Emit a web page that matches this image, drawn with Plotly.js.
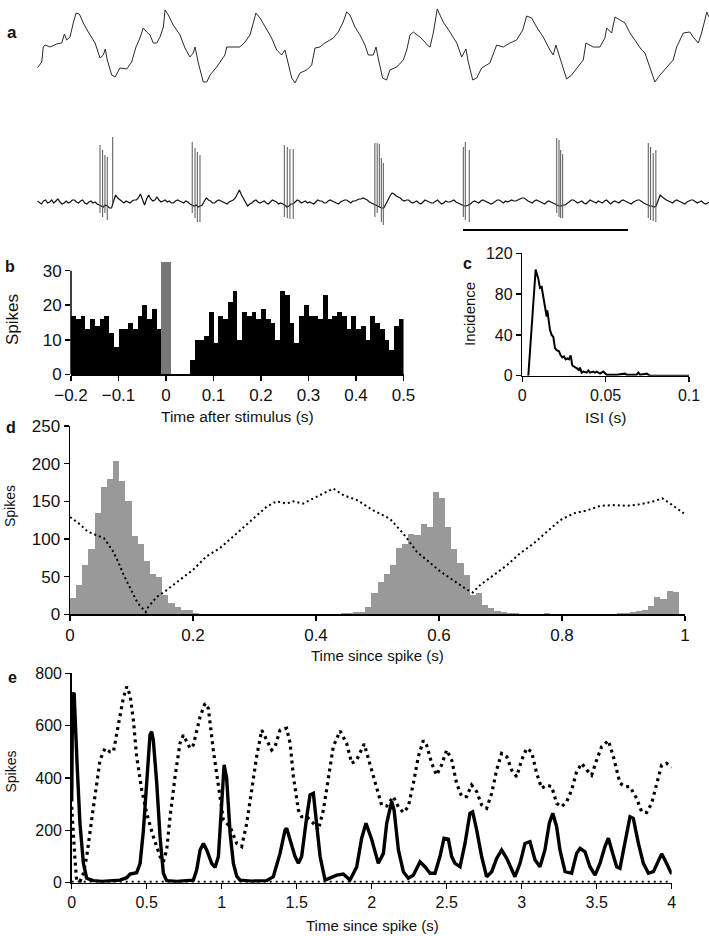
<!DOCTYPE html>
<html><head><meta charset="utf-8">
<script src="https://cdn.plot.ly/plotly-3.0.1.min.js"></script>
<style>html,body{margin:0;padding:0;background:#fff}#chart{width:709px;height:936px}</style>
</head><body><div id="chart"></div>
<script>
// ================= DATA =================
// (a) top: slow membrane/field oscillation (time ms, amplitude a.u.)
const slowT = [0,2.7,3.6,4.7,7.7,11.8,14.8,16.4,17.8,19.8,21.8,23.5,25.5,27.9,30.9,35.0,38.0,40.0,41.2,42.4,45.1,47.1,50.1,54.2,57.2,59.8,62.2,64.2,66.3,68.3,70.3,72.4,74.4,76.4,77.4,79.4,82.4,86.5,89.5,92.5,94.5,95.6,97.6,100.6,102.7,104.7,108.7,111.7,113.7,114.8,118.8,122.8,125.9,128.9,130.9,132.5,135.0,139.0,142.0,145.1,148.1,150.1,151.1,154.2,156.2,159.2,163.3,166.3,168.3,171.3,174.3,177.4,179.4,182.4,185.4,187.5,189.5,192.5,195.6,198.6,200.6,203.6,205.3,206.6,209.3,211.7,213.7,217.8,221.8,223.9,225.9,227.9,231.9,234.9,236.3,238.0,240.0,242.4,246.0,250.1,254.2,257.2,259.8,261.2,263.9,266.3,269.3,274.3,277.4,278.4,282.4,286.5,290.5,294.2,296.6,299.6,302.6,306.6,310.7,312.7,314.3,316.8,318.8,320.8,323.8,327.8,330.9,332.5,336.9,341.0,344.0,345.1,348.1,350.1,353.1,356.2,359.2,363.2,366.3,368.3,370.3,374.3,377.4,381.4,385.4,387.5,391.5,395.5,397.5,400.6,402.6,404.6,405.7,407.1];
const slowV = [17,23,38,40,38,41,42,51,45,48,62,72,71,62,53,42,27,30,36,25,10,8,17,16,23,38,47,57,53,50,42,42,48,58,75,70,60,50,37,28,32,38,22,3,3,10,18,25,30,38,38,38,43,50,62,72,67,55,47,35,30,35,28,7,2,12,15,20,37,38,42,45,47,53,63,73,70,58,50,40,30,30,38,27,7,5,15,18,25,35,50,53,48,43,40,38,52,76,63,53,42,28,36,23,5,7,17,22,35,40,38,42,45,55,69,67,58,48,35,30,40,27,15,6,10,18,25,42,38,38,47,57,52,68,65,62,52,42,35,32,23,3,10,17,25,38,52,53,48,42,52,65,73,68];
// (a) bottom: extracellular trace, sampled every 1.25 ms
const unitDt = 1.25;
const unitV = [
  1,-1,-2,1,2,-1,0,2,-1,1,3,0,-2,-1,1,-1,0,2,2,0,
  -1,1,2,-1,-2,0,1,-1,0,-2,-3,-4,-5,-3,-4,-6,-6,1,7,4,
  2,0,-1,1,0,-1,1,2,2,4,8,2,-3,3,7,3,1,2,5,2,
  0,1,2,0,1,-1,-1,1,2,1,0,-1,1,0,-2,-3,-4,-3,-5,-4,
  -3,1,4,2,1,-1,-1,1,2,1,0,-1,-2,0,1,2,4,8,12,7,
  3,-1,-4,-2,-1,1,2,0,-1,0,1,-1,-2,0,2,1,0,-2,-1,-2,
  -3,-5,-4,-2,-2,0,2,1,-1,0,1,-1,0,-1,-2,0,2,1,1,-1,
  -1,1,2,1,0,-1,-2,0,1,2,2,0,-1,1,1,2,3,3,4,3,
  2,0,-1,-2,-3,-4,-5,-6,-6,-2,3,6,9,8,6,5,4,2,1,2,
  2,0,-1,0,1,-1,-2,0,2,1,0,-1,-1,1,2,0,-2,-1,1,0,
  0,1,2,0,-1,-2,-3,-4,-4,-3,-2,0,1,0,-1,1,2,1,0,-1,
  -2,-1,1,2,2,0,-1,1,0,1,2,1,1,2,3,4,4,2,1,0,
  -1,1,2,1,0,-1,-2,0,1,0,-1,-2,-3,-4,-4,-3,-3,-1,1,2,
  2,0,-1,0,1,-1,-2,0,2,1,0,-1,1,0,-1,1,2,0,-2,0,
  1,0,-1,1,2,1,0,-1,-2,0,1,2,2,0,-1,-2,-3,-4,-4,-5,
  -4,2,7,5,3,2,1,0,-1,1,2,1,0,-1,-2,0,1,2,2,0,
  -1,0,1,-1,-2,-1,0];
const spikeTimes = [38.0,39.6,41.0,42.4,45.7, 93.9,95.6,97.0,98.6, 149.7,151.5,153.1,155.1, 204.6,206.0,207.3,208.5,209.7, 258.2,259.4,261.8, 314.8,316.2,317.2,318.4, 370.3,371.7,373.3,374.9];
const spikePeaks = [57,52,47,45,65, 60,54,50,47, 57,55,53,53, 59,59,58,44,39, 55,60,52, 64,62,52,48, 59,55,49,52];
const spikeTroughs = [-11,-15,-11,-18,-1, -11,-16,-20,-20, -15,-16,-17,-17, -15,-11,-6,-20,-23, -15,-18,-20, -11,-15,-16,-16, -16,-18,-19,-20];
const scaleBarStart = 258, scaleBarLength = 100, scaleBarLevel = -28;

// (b) peri-stimulus histogram
const psthBinStart = -0.2, psthBinWidth = 0.01;
const psthCounts = [17,16,17,13,16,14,16,17,12,8,13,13,15,13,17,20,16,19,13,16, 0,0,0,0,0,
  4,10,10,11,18,9,17,16,21,24,10,18,17,18,16,19,16,15,10,24,23,15,9,17,20,17,17,16,23,16,17,18,17,13,17,13,14,10,17,15,13,10,7,14,16];
const stimTime = 0, stimWidth = 0.02, stimCount = 32.6;
const bTicks = [-0.2,-0.1,0,0.1,0.2,0.3,0.4,0.5];
const bTickText = ['\u22120.2','\u22120.1','0','0.1','0.2','0.3','0.4','0.5'];

// (c) ISI distribution
const isiX = [0.0036,0.008,0.0096,0.0106,0.0116,0.013,0.014,0.0146,0.015,0.0158,0.0166,0.0176,0.0186,0.0196,0.0206,0.022,0.023,0.024,0.025,0.026,0.027,0.028,0.029,0.030,0.031,0.032,0.033,0.034,0.0346,0.0356,0.0366,0.0386,0.0396,0.0406,0.0426,0.0436,0.0446,0.0466,0.0486,0.0506,0.0526,0.0566,0.0616,0.0626,0.0686,0.0696,0.0706,0.0746,0.0766,0.1];
const isiY = [0,104,95,86,87,74,65,58,64,53,45,40,38,27,25,24,20,18,19,16,17,16,20,10,9,8,7,5,8,3,4,3,5,3,4,3,4,2,4,1,1,1,2,1,1,3,1,2,0,0];

// (d) spike-phase histogram + mean oscillation
const phaseBinWidth = 0.01;
const phaseCounts = [21,39,65,87,134,169,180,204,177,150, 104,93,71,54,49,26,15,10,6,6, 2,1,1,1,0,1,0,1,0,0, 1,0,1,0,1,1,0,1,1,1, 1,1,1,1,2,2,3,3,10,28, 43,53,65,88,93,106,105,120,116,163, 154,116,87,68,52,25,28,12,8,4, 3,2,2,1,1,1,1,2,1,1, 1,1,1,1,0,1,1,1,1,2, 2,3,4,6,11,23,20,31,29,0];
const oscX = [0,0.014,0.0285,0.0447,0.0553,0.069,0.077,0.0886,0.0996,0.11,0.1231,0.1274,0.141,0.157,0.179,0.2,0.222,0.233,0.244,0.265,0.287,0.303,0.32,0.336,0.352,0.363,0.379,0.396,0.412,0.428,0.445,0.466,0.493,0.52,0.542,0.564,0.583,0.602,0.618,0.634,0.645,0.655,0.667,0.689,0.71,0.732,0.754,0.776,0.797,0.819,0.841,0.862,0.884,0.906,0.927,0.949,0.963,0.976,0.998];
const oscY = [129,121,110,105,101,85,72,50,32,15,3,10,23,32,46,59,77,83,88,103,119,130,143,150,147,150,147,154,161,167,158,152,138,127,107,83,70,57,48,39,33,29,39,52,65,81,94,110,125,134,138,144,145,144,146,150,154,147,134];
const dTicks = [0,0.2,0.4,0.6,0.8,1];
const dTickText = ['0','0.2','0.4','0.6','0.8','1'];

// (e) autocorrelogram (solid) and cross-correlogram (dotted)
const autoX = [0,0.006,0.016,0.025,0.037,0.055,0.078,0.1,0.144,0.2,0.25,0.322,0.367,0.389,0.433,0.456,0.478,0.5,0.522,0.533,0.544,0.567,0.589,0.611,0.633,0.7,0.75,0.811,0.833,0.856,0.878,0.9,0.933,0.956,0.978,1.0,1.016,1.033,1.056,1.078,1.1,1.122,1.2,1.3,1.344,1.389,1.422,1.433,1.456,1.489,1.511,1.533,1.567,1.589,1.611,1.633,1.656,1.689,1.722,1.767,1.811,1.855,1.9,1.933,1.962,2.0,2.044,2.078,2.1,2.133,2.149,2.178,2.211,2.244,2.278,2.322,2.355,2.389,2.422,2.455,2.482,2.511,2.533,2.555,2.589,2.622,2.655,2.673,2.7,2.733,2.766,2.8,2.833,2.866,2.9,2.933,2.955,2.989,3.022,3.055,3.089,3.122,3.155,3.184,3.207,3.233,3.255,3.289,3.333,3.366,3.389,3.422,3.455,3.489,3.522,3.555,3.578,3.6,3.633,3.655,3.689,3.722,3.744,3.778,3.811,3.845,3.878,3.911,3.933,3.955,3.978,4.0];
const autoY = [310,720,725,560,440,227,74,17,8,5,8,10,19,33,38,74,200,380,565,577,545,380,176,36,8,5,7,10,48,125,150,125,74,59,100,316,450,399,189,74,25,10,6,8,23,112,200,208,163,100,74,100,252,335,341,227,100,10,17,29,33,10,60,170,227,165,74,112,227,310,278,125,42,17,29,80,61,36,36,100,170,166,100,74,61,150,265,271,201,100,23,42,93,125,93,48,23,74,150,157,87,61,125,227,265,214,125,42,36,112,131,118,61,29,74,138,170,125,61,55,157,252,246,150,74,36,42,87,110,87,61,33];
const crossX = [0,0.011,0.022,0.033,0.055,0.078,0.1,0.133,0.167,0.189,0.222,0.256,0.278,0.311,0.344,0.367,0.389,0.411,0.433,0.467,0.5,0.544,0.589,0.611,0.633,0.656,0.689,0.722,0.744,0.767,0.789,0.811,0.856,0.889,0.911,0.944,0.978,1.011,1.056,1.1,1.133,1.167,1.2,1.233,1.267,1.3,1.333,1.356,1.389,1.433,1.456,1.478,1.511,1.533,1.567,1.611,1.644,1.678,1.711,1.744,1.789,1.833,1.867,1.9,1.95,2.0,2.033,2.066,2.1,2.144,2.178,2.211,2.244,2.278,2.311,2.344,2.366,2.4,2.433,2.466,2.5,2.533,2.566,2.6,2.633,2.666,2.7,2.733,2.766,2.8,2.833,2.866,2.9,2.933,2.966,3.0,3.033,3.066,3.1,3.133,3.166,3.2,3.233,3.266,3.3,3.333,3.366,3.4,3.433,3.466,3.5,3.533,3.578,3.611,3.655,3.689,3.722,3.766,3.8,3.833,3.866,3.9,3.933,3.966,4.0];
const crossY = [290,176,87,10,4,36,100,240,380,469,513,500,500,596,705,749,717,622,482,354,265,176,100,80,125,252,405,533,564,539,513,526,634,685,666,507,367,240,214,150,138,227,354,482,583,545,507,520,583,590,533,405,278,252,252,227,201,278,405,520,580,532,456,469,530,430,354,297,293,329,290,268,290,380,482,543,526,456,411,450,507,469,380,329,329,373,348,297,284,341,431,494,482,431,405,469,513,500,418,361,373,367,303,290,310,354,424,456,431,411,469,520,543,482,380,367,367,322,271,268,303,380,450,456,441];
const shuffleX = [0,4];
const shuffleY = [4,4];
const eTicks = [0,0.5,1,1.5,2,2.5,3,3.5,4];
const eTickText = ['0','0.5','1','1.5','2','2.5','3','3.5','4'];

// ================= FIGURE =================
const W = 709, H = 936;
const fx = p => p / W;
const fy = p => 1 - p / H;
const FONT = 'Liberation Sans, Arial, Helvetica, sans-serif';
const INK = '#111';

const unitT = unitV.map((_, i) => i * unitDt);
const spX = [], spY = [];
spikeTimes.forEach((t, i) => { spX.push(t, t, null); spY.push(spikePeaks[i], spikeTroughs[i], null); });
const psthX = psthCounts.map((_, i) => psthBinStart + i * psthBinWidth);
const phaseX = phaseCounts.map((_, i) => i * phaseBinWidth);

const traces = [
  {type:'scatter', mode:'lines', x:slowT, y:slowV, xaxis:'x', yaxis:'y', line:{color:'#2a2a2a', width:1}},
  {type:'scatter', mode:'lines', x:unitT, y:unitV, xaxis:'x2', yaxis:'y2', line:{color:'#111', width:1.2}},
  {type:'scatter', mode:'lines', x:spX, y:spY, xaxis:'x2', yaxis:'y2', line:{color:'#555', width:1}, connectgaps:false},
  {type:'scatter', mode:'lines', x:[scaleBarStart, scaleBarStart + scaleBarLength], y:[scaleBarLevel, scaleBarLevel], xaxis:'x2', yaxis:'y2', line:{color:'#000', width:2}},
  {type:'bar', x:psthX, y:psthCounts, offset:0, width:psthBinWidth, xaxis:'x3', yaxis:'y3', marker:{color:'#000', line:{width:0}}},
  {type:'bar', x:[stimTime], y:[stimCount], offset:-stimWidth/2, width:stimWidth, xaxis:'x3', yaxis:'y3', marker:{color:'#777', line:{width:0}}},
  {type:'scatter', mode:'lines', x:isiX, y:isiY, xaxis:'x4', yaxis:'y4', line:{color:'#000', width:2}},
  {type:'bar', x:phaseX, y:phaseCounts, offset:0, width:phaseBinWidth, xaxis:'x5', yaxis:'y5', marker:{color:'#999', line:{width:0}}},
  {type:'scatter', mode:'lines', x:oscX, y:oscY, xaxis:'x5', yaxis:'y5', line:{color:'#000', width:2, dash:'2px,3px'}},
  {type:'scatter', mode:'lines', x:shuffleX, y:shuffleY, xaxis:'x6', yaxis:'y6', line:{color:'#000', width:2, dash:'2px,4px'}},
  {type:'scatter', mode:'lines', x:crossX, y:crossY, xaxis:'x6', yaxis:'y6', line:{color:'#000', width:3.2, dash:'3px,4px'}},
  {type:'scatter', mode:'lines', x:autoX, y:autoY, xaxis:'x6', yaxis:'y6', line:{color:'#000', width:3.4}}
];

function ax(extra, size) {
  return Object.assign({
    showline:true, linecolor:'#000', linewidth:1.5,
    ticks:'outside', ticklen:5, tickwidth:1.5, tickcolor:'#000',
    showgrid:false, zeroline:false, fixedrange:true,
    tickfont:{family:FONT, size:size || 16, color:INK}
  }, extra);
}
const hid = extra => Object.assign({visible:false, fixedrange:true}, extra);

const layout = {
  width:W, height:H, margin:{l:0, r:0, t:0, b:0},
  paper_bgcolor:'#fff', plot_bgcolor:'rgba(0,0,0,0)',
  showlegend:false, barmode:'overlay', bargap:0,
  font:{family:FONT, color:INK},
  xaxis: hid({domain:[fx(37.3), 1], range:[0, 407.1], anchor:'y'}),
  yaxis: hid({domain:[fy(85), fy(5)], range:[0, 80], anchor:'x'}),
  xaxis2: hid({domain:[fx(37.3), 1], range:[0, 407.1], anchor:'y2'}),
  yaxis2: hid({domain:[fy(232), fy(132)], range:[-30, 70], anchor:'x2'}),
  xaxis3: ax({domain:[fx(71), fx(403.5)], range:[-0.2, 0.5], anchor:'y3', tickvals:bTicks, ticktext:bTickText}, 17),
  yaxis3: ax({domain:[fy(374.3), fy(374.3 - 33 * 3.453)], range:[0, 33], anchor:'x3', tickvals:[0,10,20,30], showline:false}, 17),
  xaxis4: ax({domain:[fx(522.3), fx(689)], range:[0, 0.1], anchor:'y4', tickvals:[0,0.05,0.1], ticktext:['0','0.05','0.1']}, 16),
  yaxis4: ax({domain:[fy(375.7), fy(253.3)], range:[0, 120], anchor:'x4', tickvals:[0,40,80,120]}, 16),
  xaxis5: ax({domain:[fx(70), fx(685)], range:[0, 1], anchor:'y5', tickvals:dTicks, ticktext:dTickText}, 17),
  yaxis5: ax({domain:[fy(614.3), fy(426)], range:[0, 250], anchor:'x5', tickvals:[0,50,100,150,200,250]}, 17),
  xaxis6: ax({domain:[fx(71.7), fx(671.7)], range:[0, 4], anchor:'y6', tickvals:eTicks, ticktext:eTickText}, 16),
  yaxis6: ax({domain:[fy(882.7), fy(673.3)], range:[0, 800], anchor:'x6', tickvals:[0,200,400,600,800]}, 16),
  shapes:[
    {type:'line', xref:'x3 domain', yref:'y3', x0:0, x1:0, y0:0, y1:30, line:{color:'#000', width:1.5}}
  ],
  annotations:[]
};

function label(text, x, y, size, opts) {
  layout.annotations.push(Object.assign({
    text:text, xref:'paper', yref:'paper', x:fx(x), y:fy(y),
    xanchor:'center', yanchor:'middle', showarrow:false,
    font:{family:FONT, size:size, color:INK}
  }, opts || {}));
}
label('<b>a</b>', 12, 33, 17);
label('<b>b</b>', 10, 266, 16);
label('<b>c</b>', 467, 263, 16);
label('<b>d</b>', 11, 428, 16);
label('<b>e</b>', 12, 677, 16);
label('Spikes', 12, 320, 17, {textangle:-90});
label('Time after stimulus (s)', 238, 416, 15.5);
label('Incidence', 470, 314, 15, {textangle:-90});
label('ISI (s)', 605, 417, 15.5);
label('Spikes', 10, 506, 14, {textangle:-90});
label('Time since spike (s)', 378, 655, 15);
label('Spikes', 10.5, 772, 14, {textangle:-90});
label('Time since spike (s)', 372, 925, 15);

Plotly.newPlot('chart', traces, layout, {displayModeBar:false, staticPlot:true});
</script>
</body></html>
